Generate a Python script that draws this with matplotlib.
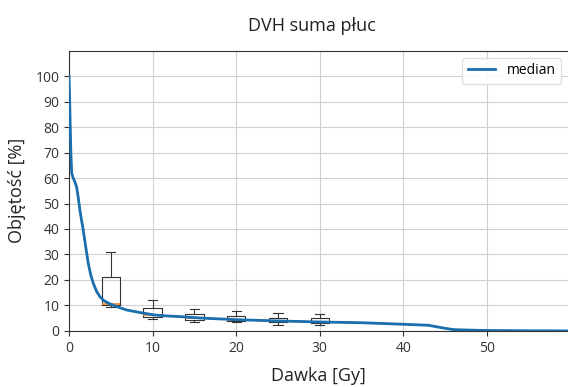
import matplotlib

matplotlib.use("Agg")
import matplotlib.pyplot as plt

plt.rcParams["font.family"] = ["Open Sans", "DejaVu Sans"]

# median DVH curve (dose [Gy] -> volume [%])
dose = [0, 0.08, 0.15, 0.22, 0.32, 0.5, 0.7, 0.9, 1.1, 1.3, 1.5, 1.7, 2.0, 2.3,
        2.6, 2.9, 3.3, 3.7, 4.2, 4.9, 5.5, 6.0, 6.9, 8.5, 10.1, 11.5, 13.3, 16,
        20, 25, 30, 35, 40, 43, 44, 45, 46, 48, 50, 55, 60]
volume = [100, 90, 80, 70, 62, 60, 58.5, 56.6, 52.5, 47.5, 43.5, 39.6, 33, 26.5,
          22, 18.7, 15.5, 13.4, 11.8, 10.6, 9.8, 9.2, 8.2, 7.2, 6.3, 5.9, 5.6, 5.0,
          4.4, 3.9, 3.5, 3.2, 2.6, 2.2, 1.6, 1.0, 0.5, 0.3, 0.15, 0.05, 0]

# boxplot summaries at selected doses
box_pos = [5, 10, 15, 20, 25, 30]
box_q1 = [10.2, 5.4, 4.3, 3.7, 3.4, 3.0]
box_med = [10.6, 6.3, 5.1, 4.3, 3.8, 3.4]
box_q3 = [21.0, 8.9, 6.5, 6.0, 5.2, 5.0]
box_lo = [9.3, 4.6, 3.3, 3.3, 2.5, 2.4]
box_hi = [31.0, 12.0, 8.6, 7.8, 6.9, 6.5]

fig = plt.figure(figsize=(5.68, 3.87), dpi=100)
ax = fig.add_axes([0.1215, 0.145, 0.8785, 0.724])

stats = [{"med": m, "q1": a, "q3": b, "whislo": lo, "whishi": hi, "fliers": []}
         for m, a, b, lo, hi in zip(box_med, box_q1, box_q3, box_lo, box_hi)]
ax.bxp(stats, positions=box_pos, widths=2.2, manage_ticks=False,
       boxprops=dict(color="#333333", lw=0.8),
       whiskerprops=dict(color="#333333", lw=0.8),
       capprops=dict(color="#333333", lw=0.8),
       medianprops=dict(color="#e8872c", lw=1.2))

ax.plot(dose, volume, color="#222222", lw=1.0, zorder=3)
ax.plot(dose, volume, color="#1b6fac", lw=2.0, label="median", zorder=4)

ax.set_xlim(0, 59.7)
ax.set_ylim(0, 110)
ax.set_xticks(range(0, 51, 10))
ax.set_yticks(range(0, 101, 10))
ax.tick_params(labelsize=10, colors="#333333")
ax.grid(True, color="#d0d0d0", lw=0.8)
ax.set_axisbelow(True)
for s in ax.spines.values():
    s.set_color("#333333")
ax.spines["right"].set_visible(False)

ax.set_xlabel("Dawka [Gy]", fontsize=13, color="#222222", labelpad=8)
ax.set_ylabel("Objętość [%]", fontsize=13, color="#222222", labelpad=7)
ax.set_title("DVH suma płuc", fontsize=13, color="#222222", pad=14, x=0.486)
ax.legend(loc="upper right", fontsize=10, framealpha=0.9, edgecolor="#dddddd")

fig.savefig("out.png", dpi=100)
